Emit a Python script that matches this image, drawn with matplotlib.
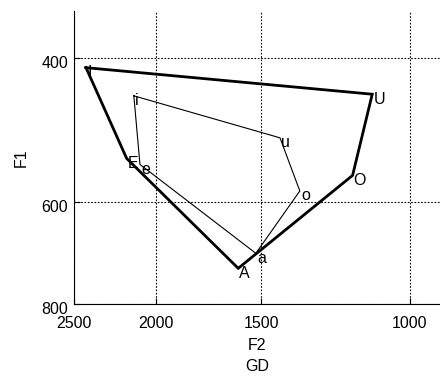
import numpy as np
import matplotlib
matplotlib.use('Agg')
import matplotlib.pyplot as plt
import matplotlib.transforms as mtransforms

plt.rcParams['font.family'] = ['Liberation Sans', 'DejaVu Sans']
plt.rcParams['font.size'] = 11.5

# outer (thick) vowel polygon
outer_labels = ['I', 'U', 'O', 'A', 'E']
outer_f2 = [2419, 1108, 1169, 1597, 2165]
outer_f1 = [411, 443, 557, 724, 531]

# inner (thin) vowel polygon
inner_labels = ['i', 'u', 'o', 'a', 'e']
inner_f2 = [2123, 1425, 1350, 1522, 2088]
inner_f1 = [445, 501, 582, 694, 540]

xticks = [2500, 2000, 1500, 1000]
yticks = [400, 600, 800]

fig = plt.figure(figsize=(4.4, 3.76), dpi=100)
ax = fig.add_axes([0.168, 0.1923, 0.832, 0.7792])

ax.plot(outer_f2 + outer_f2[:1], outer_f1 + outer_f1[:1], color='black', lw=2.0,
        solid_joinstyle='miter', zorder=3)
ax.plot(inner_f2 + inner_f2[:1], inner_f1 + inner_f1[:1], color='black', lw=0.8, zorder=3)

for lab, x, y in zip(outer_labels + inner_labels, outer_f2 + inner_f2, outer_f1 + inner_f1):
    ax.annotate(lab, (x, y), xytext=(0.8, -6.8), textcoords='offset points',
                ha='left', va='baseline', fontsize=11.5, zorder=4)

ax.set_xscale('log')
ax.set_yscale('log')
ax.set_xlim(2500, 921)
ax.set_ylim(800, 350)
ax.set_xticks(xticks)
ax.set_xticklabels([str(t) for t in xticks])
ax.set_yticks(yticks)
ax.set_yticklabels([str(t) for t in yticks])
ax.xaxis.set_minor_locator(matplotlib.ticker.NullLocator())
ax.yaxis.set_minor_locator(matplotlib.ticker.NullLocator())

ax.grid(True, color='black', linestyle=(0, (1.5, 1.5)), linewidth=0.8)
ax.spines['top'].set_visible(False)
ax.spines['right'].set_visible(False)
ax.tick_params(direction='in', length=4, width=0.8, labelsize=11.5)
ax.tick_params(axis='x', pad=9)
ax.tick_params(axis='y', pad=4)

offset = mtransforms.ScaledTranslation(0, -4 / 100, fig.dpi_scale_trans)
for lbl in ax.get_yticklabels():
    lbl.set_transform(lbl.get_transform() + offset)

ax.set_xlabel('F2\nGD', linespacing=1.45, labelpad=5)
ax.set_ylabel('F1', labelpad=9.5)

fig.savefig('out.png', dpi=100)
